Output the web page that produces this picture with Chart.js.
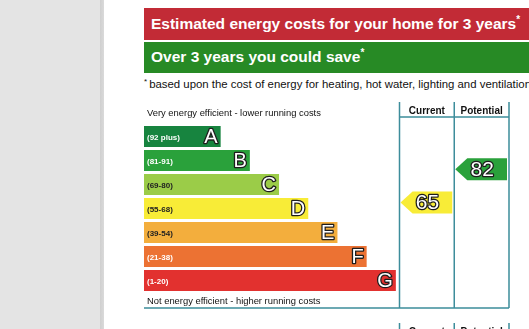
<!DOCTYPE html>
<html>
<head>
<meta charset="utf-8">
<script src="https://cdn.jsdelivr.net/npm/chart.js@4.4.0/dist/chart.umd.min.js"></script>
<style>
    html, body { margin: 0; padding: 0; width: 529px; height: 329px; overflow: hidden; background: #fff; font-family: 'Liberation Sans', Arial, sans-serif; }
    .side { position: absolute; left: 0; top: 0; width: 100px; height: 329px; background: #e4e4e4; }
    .side-edge { position: absolute; left: 100px; top: 0; width: 4px; height: 329px; background: linear-gradient(to right, #cfcfcf, #dadada); }
    .banner { position: absolute; left: 144px; width: 400px; color: #fff; font-weight: bold; font-size: 15.5px; padding-left: 7px; box-sizing: border-box; white-space: nowrap; }
    .red { top: 8px; height: 32px; line-height: 31px; background: #c22b36; }
    .green { top: 42px; height: 31px; line-height: 29px; background: #278a25; }
    sup { vertical-align: baseline; position: relative; }
    .banner sup { font-size: 10px; top: -6px; }
    .note { position: absolute; left: 144px; top: 78px; font-size: 11.4px; line-height: 13px; color: #111; white-space: nowrap; }
    .note sup { font-size: 8px; top: -4px; margin-right: 2px; }
    #epc { position: absolute; left: 0; top: 0; }
</style>
</head>
<body>
<div class="side"></div>
<div class="side-edge"></div>
<div class="banner red">Estimated energy costs for your home for 3 years<sup>*</sup></div>
<div class="banner green">Over 3 years you could save<sup>*</sup></div>
<div class="note"><sup>*</sup>based upon the cost of energy for heating, hot water, lighting and ventilation</div>
<canvas id="epc" width="529" height="329"></canvas>
<script>
const bandLetters = ['A', 'B', 'C', 'D', 'E', 'F', 'G'];
const bandRanges = ['(92 plus)', '(81-91)', '(69-80)', '(55-68)', '(39-54)', '(21-38)', '(1-20)'];
const bandMin = [92, 81, 69, 55, 39, 21, 1];
const bandMax = [100, 91, 80, 68, 54, 38, 20];
const barLengths = [21, 29, 37, 45, 53, 61, 69];
const columnNames = ['Current', 'Potential'];
const ratings = [65, 82];

const bandColors = ['#17843f', '#2aa13b', '#9bcc48', '#f8ec37', '#f3ae3d', '#ec7233', '#e2312f'];
const rangeTextColors = ['#fff', '#fff', '#222', '#222', '#222', '#fff', '#fff'];
const columnEdges = [70, 85, 100];
const FONT = '"Liberation Sans", Arial, sans-serif';

function outlined(ctx, text, x, y, align, size) {
    ctx.font = size + 'px ' + FONT;
    ctx.textAlign = align;
    ctx.textBaseline = 'middle';
    ctx.lineJoin = 'round';
    ctx.lineWidth = 2.6;
    ctx.strokeStyle = '#1d1d1d';
    ctx.strokeText(text, x, y);
    ctx.fillStyle = '#fff';
    ctx.fillText(text, x, y);
}

const epcDecor = {
    id: 'epcDecor',
    afterDatasetsDraw(chart) {
        const { ctx, chartArea, scales: { x, y } } = chart;
        const bars = chart.getDatasetMeta(0).data;
        ctx.save();

        // band labels
        bars.forEach((bar, i) => {
            ctx.font = 'bold 8px ' + FONT;
            ctx.textAlign = 'left';
            ctx.textBaseline = 'middle';
            ctx.fillStyle = rangeTextColors[i];
            ctx.fillText(bandRanges[i], bar.base + 3, bar.y + 1);
            outlined(ctx, bandLetters[i], bar.x - 3, bar.y + 1, 'right', 20);
        });

        // table frame
        const colX = columnEdges.map(v => x.getPixelForValue(v));
        const left = x.getPixelForValue(0);
        const top = chartArea.top - 22.5;
        const headLine = chartArea.top - 7.5;
        const bottom = chartArea.bottom + 15.5;
        ctx.strokeStyle = '#3d8d9b';
        ctx.lineWidth = 1.5;
        ctx.beginPath();
        colX.forEach(cx => { ctx.moveTo(cx, top); ctx.lineTo(cx, bottom); });
        ctx.moveTo(colX[0], headLine); ctx.lineTo(colX[2], headLine);
        ctx.moveTo(left, bottom); ctx.lineTo(colX[2], bottom);
        const top2 = bottom + 15;
        colX.forEach(cx => { ctx.moveTo(cx, top2); ctx.lineTo(cx, chart.height); });
        ctx.stroke();

        ctx.fillStyle = '#111';
        ctx.font = 'bold 10px ' + FONT;
        ctx.textAlign = 'center';
        ctx.textBaseline = 'alphabetic';
        columnNames.forEach((name, c) => {
            const mid = (colX[c] + colX[c + 1]) / 2;
            ctx.fillText(name, mid, chartArea.top - 10.5);
            ctx.fillText(name, mid, top2 + 11.5);
        });

        ctx.font = '9.4px ' + FONT;
        ctx.textAlign = 'left';
        ctx.fillText('Very energy efficient - lower running costs', left + 3, chartArea.top - 8.5);
        ctx.fillText('Not energy efficient - higher running costs', left + 3, chartArea.bottom + 11.5);

        // rating arrows
        const h = bars[0].height + 1;
        ratings.forEach((r, c) => {
            const band = bandMin.findIndex(m => r >= m);
            const pos = band - 0.5 + (bandMax[band] - r + 0.5) / (bandMax[band] - bandMin[band] + 1);
            const cy = y.getPixelForValue(pos);
            const x0 = colX[c] + 1;
            const x1 = colX[c + 1] - 2;
            ctx.beginPath();
            ctx.moveTo(x0, cy);
            ctx.lineTo(x0 + h / 2 + 1, cy - h / 2);
            ctx.lineTo(x1, cy - h / 2);
            ctx.lineTo(x1, cy + h / 2);
            ctx.lineTo(x0 + h / 2 + 1, cy + h / 2);
            ctx.closePath();
            ctx.fillStyle = bandColors[band];
            ctx.fill();
            outlined(ctx, String(r), (x0 + x1) / 2 + 1, cy + 1, 'center', 21);
        });
        ctx.restore();
    }
};

document.addEventListener('DOMContentLoaded', () => {
    const epcCtx = document.getElementById('epc').getContext('2d');

    new Chart(epcCtx, {
        type: 'bar',
        data: {
            labels: bandLetters,
            datasets: [{
                data: barLengths,
                backgroundColor: bandColors,
                borderWidth: 0,
                barPercentage: 0.88,
                categoryPercentage: 1
            }]
        },
        options: {
            indexAxis: 'y',
            responsive: false,
            animation: false,
            layout: { padding: { left: 144, right: 20, top: 124.5, bottom: 36.5 } },
            plugins: { legend: { display: false }, tooltip: { enabled: false } },
            scales: {
                x: { type: 'linear', min: 0, max: 100, display: false },
                y: { display: false }
            }
        },
        plugins: [epcDecor]
    });
});
</script>
</body>
</html>
